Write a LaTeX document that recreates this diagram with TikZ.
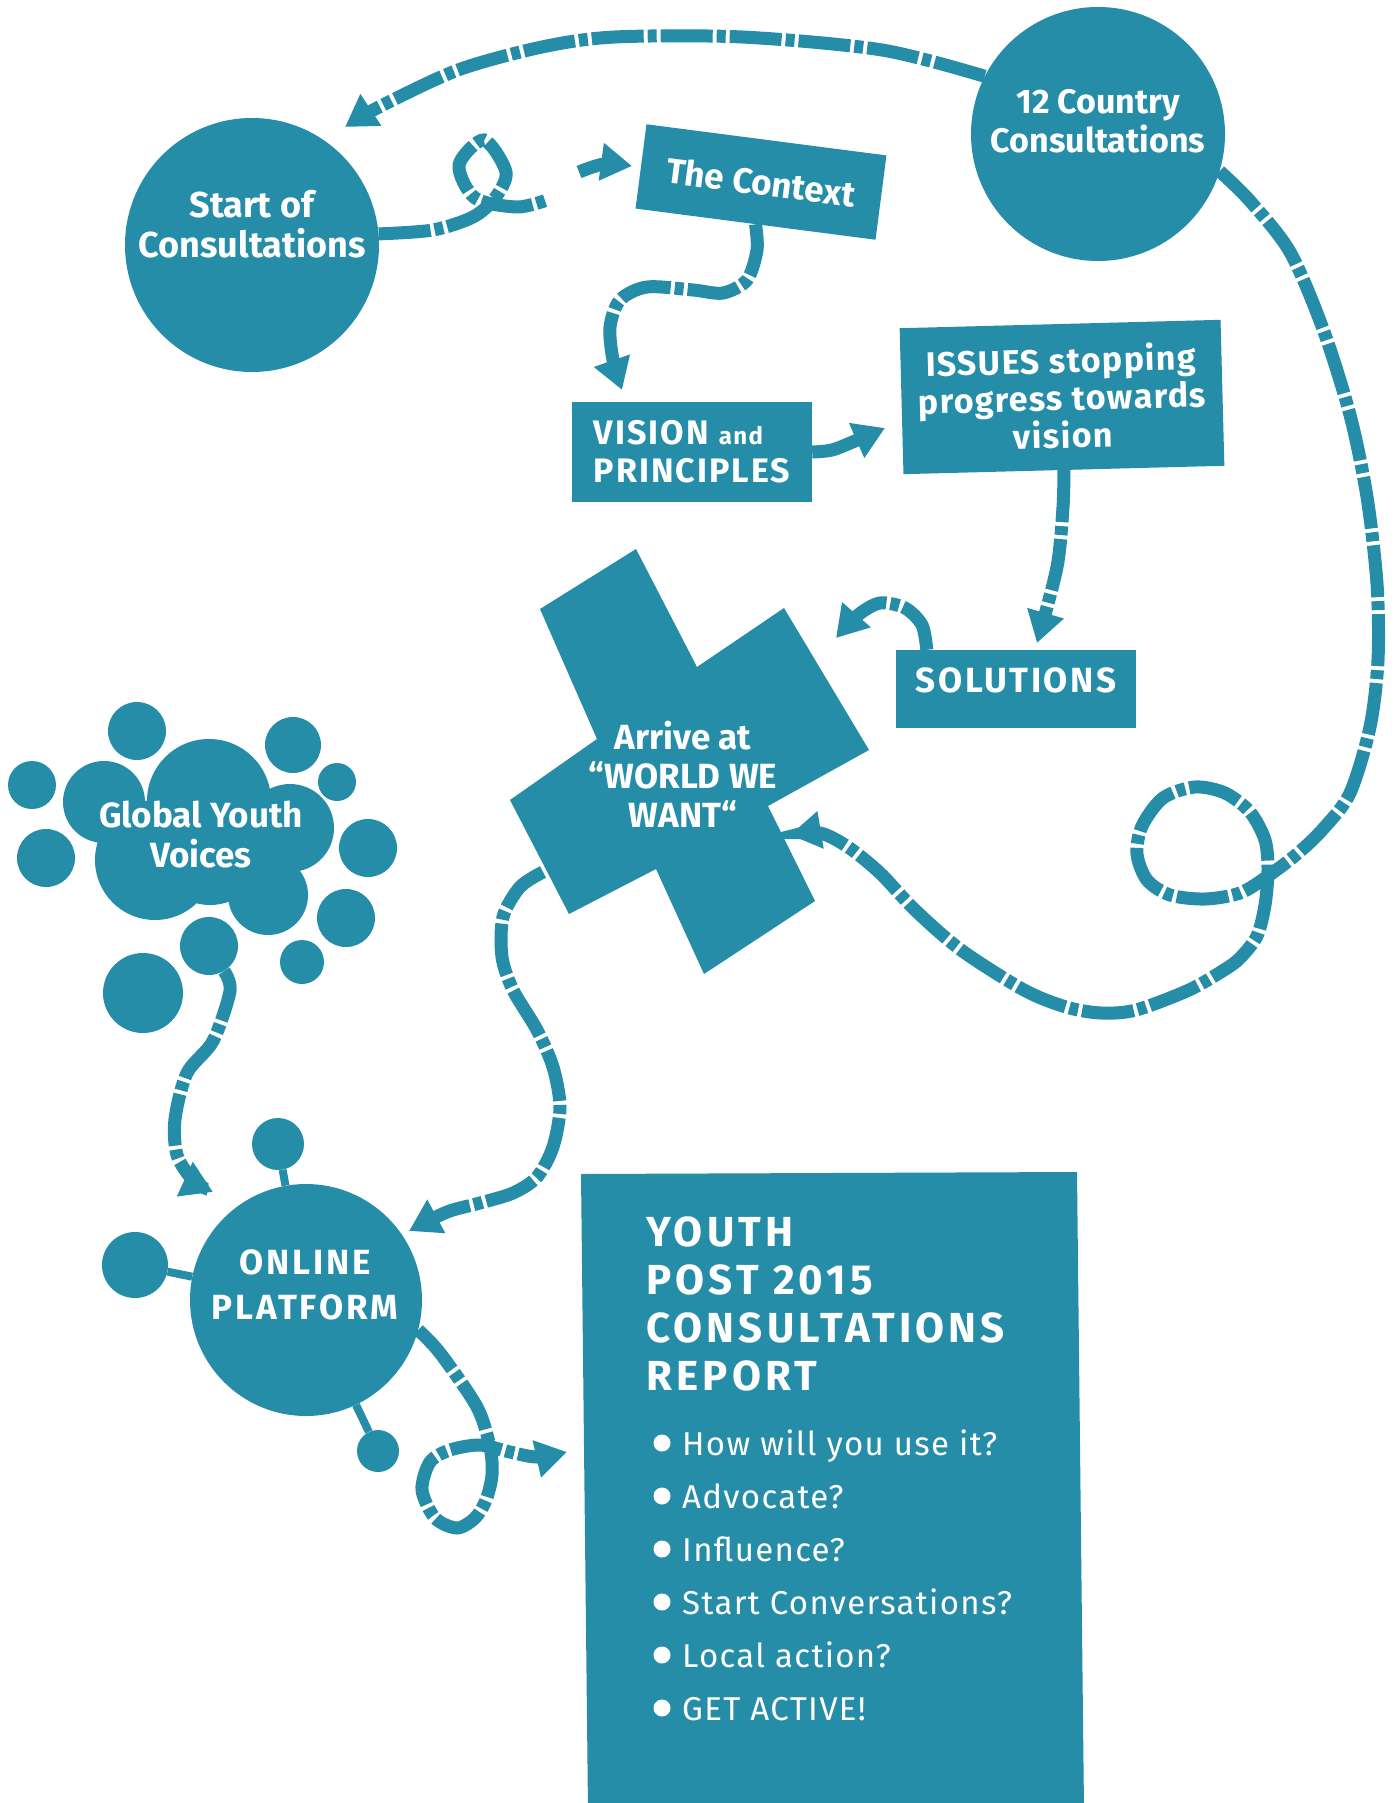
\documentclass[tikz,border=0pt]{standalone}
\usepackage{fontspec}
\setmainfont{Fira Sans}
\usetikzlibrary{arrows.meta}
\definecolor{yteal}{RGB}{38,141,168}
\tikzset{
  dashline/.style={draw=yteal, line width=13pt, dash pattern=on 52pt off 4pt on 9pt off 4pt},
  dasharrow/.style={dashline, -{Triangle[length=31pt,width=36pt]}},
  blob/.style={circle, fill=yteal, inner sep=0pt},
  stem/.style={draw=yteal, line width=8pt},
  tagbox/.style={rectangle, fill=yteal, inner sep=0pt, text=white, align=center,
    font=\bfseries\fontsize{35}{38}\selectfont},
  lbl/.style={text=white, align=center, inner sep=0pt,
    font=\bfseries\fontsize{36}{40}\selectfont},
}

\begin{document}
\begin{tikzpicture}[x=1pt, y=-1pt]
      \useasboundingbox[fill=white] (0,0) rectangle (1394,1803);

      % the two big circles at the top
      \node[blob, minimum size=254pt] (start) at (252,245) {};
      \node[lbl] (startlbl) at (252,224) {Start of\\Consultations};
      \node[blob, minimum size=254pt] (c12) at (1098,134) {};
      \node[lbl, font=\bfseries\fontsize{34}{39}\selectfont] (c12lbl) at (1098,121) {12 Country\\Consultations};

      % boxes
      \node[tagbox, rotate=-7.4, minimum width=242pt, minimum height=85pt] (ctx) at (761,182) {The Context};
      \node[tagbox, align=left, minimum width=240pt, minimum height=100pt,
        font=\bfseries\fontsize{34}{38}\selectfont\addfontfeature{LetterSpace=6}] (vision) at (692,452)
        {VISION {\fontsize{24}{24}\selectfont and}\\PRINCIPLES};
      \node[tagbox, rotate=1.5, minimum width=321pt, minimum height=146pt,
        font=\bfseries\fontsize{34}{37.5}\selectfont\addfontfeature{LetterSpace=4}] (issues) at (1062,397)
        {ISSUES stopping\\progress towards\\vision};
      \node[tagbox, minimum width=240pt, minimum height=78pt, text depth=18pt,
        font=\bfseries\fontsize{35}{38}\selectfont\addfontfeature{LetterSpace=7}] (solutions) at (1016,689) {SOLUTIONS};

      % the cross
      \fill[yteal] (540,609) -- (636,549) -- (697,667) -- (784,608) -- (869,750) -- (768,806)
        -- (815,901) -- (704,974) -- (656,869) -- (569,914) -- (510,800) -- (597,739) -- cycle;
      \node[lbl, font=\bfseries\fontsize{35}{39}\selectfont] (www) at (683,774) {Arrive at\\“WORLD WE\\WANT“};

      % cloud of voices
      \fill[yteal] (104,802) circle[radius=41pt] (209,801) circle[radius=62pt] (290,828) circle[radius=44pt]
        (155,860) circle[radius=60pt] (268,895) circle[radius=40pt] (210,850) circle[radius=55pt];
      \fill[yteal] (137,731) circle[radius=29pt] (32,785) circle[radius=24pt] (46,858) circle[radius=29pt]
        (293,745) circle[radius=28pt] (337,782) circle[radius=19pt] (368,848) circle[radius=29pt]
        (346,918) circle[radius=29pt] (302,962) circle[radius=22pt] (143,993) circle[radius=40pt];
      \node[blob, minimum size=58pt] (gyvdrop) at (209,946) {};
      \node[lbl, font=\bfseries\fontsize{35}{40}\selectfont] (gyv) at (201,835) {Global Youth\\Voices};

      % online platform
      \node[blob, minimum size=232pt] (online) at (306,1300) {};
      \node[lbl, font=\bfseries\fontsize{35}{45}\selectfont\addfontfeature{LetterSpace=8}] (onlinelbl) at (305,1285) {ONLINE\\PLATFORM};
      \node[blob, minimum size=52pt] (satA) at (278,1144) {};
      \node[blob, minimum size=66pt] (satB) at (135,1265) {};
      \node[blob, minimum size=42pt] (satC) at (378,1451) {};
      \draw[stem] (satA) -- (online);
      \draw[stem] (satB) -- (online);
      \draw[stem] (satC) -- (online);

      % report
      \fill[yteal] (581,1174) -- (1077,1172) -- (1084,1810) -- (588,1810) -- cycle;
      \node[anchor=north west, inner sep=0pt, text=white, align=left,
        font=\bfseries\fontsize{42}{48}\selectfont\addfontfeature{LetterSpace=10}] (title) at (646,1216)
        {YOUTH\\POST 2015\\CONSULTATIONS\\REPORT};
      \node[anchor=north west, inner sep=0pt, text=white, align=left,
        font=\fontsize{33}{53}\selectfont\addfontfeature{LetterSpace=4}] (uses) at (682,1430)
        {How will you use it?\\Advocate?\\Influence?\\Start Conversations?\\Local action?\\GET ACTIVE!};
      \fill[white] (662,1443) circle[radius=8.5pt];
      \fill[white] (662,1496) circle[radius=8.5pt];
      \fill[white] (662,1549) circle[radius=8.5pt];
      \fill[white] (662,1602) circle[radius=8.5pt];
      \fill[white] (662,1655) circle[radius=8.5pt];
      \fill[white] (662,1708) circle[radius=8.5pt];

      % arrow ends
      \coordinate (arcend) at (345,127);
      \coordinate (ctxin) at (632,166);
      \coordinate (visin) at (622,390);
      \coordinate (issin) at (885,428);
      \coordinate (solin) at (1037,643);
      \coordinate (wwwin) at (836,638);
      \coordinate (wwwin2) at (790,835);
      \coordinate (wwwout) at (543,872);
      \coordinate (onlin) at (409,1231);
      \coordinate (onlin2) at (213,1192);
      \coordinate (repin) at (567,1452);

      % connectors
      \draw[dasharrow] plot[smooth] coordinates {(c12.153) (882,50) (742,37) (615,37) (542,47) (458,70) (379,107) (arcend)};
      \draw[dasharrow] plot[smooth] coordinates {(start.5) (433,230) (473,217) (495,198) (506,172) (484,140)
        (459,165) (475,198) (517,207) (547,200)} plot[smooth] coordinates {(579,172) (604,164) (ctxin)};
      \draw[dasharrow] plot[smooth] coordinates {(ctx.south) (757,250) (747,280) (723,293) (693,290) (647,287)
        (620,300) (610,327) (613,360) (visin)};
      \draw[dasharrow] plot[smooth] coordinates {(vision.east) (832,450) (855,441) (issin)};
      \draw[dasharrow] plot[smooth] coordinates {(issues.south) (1063,507) (1057,567) (solin)};
      \draw[dasharrow] plot[smooth] coordinates {([xshift=31pt]solutions.north west) (922,625) (905,608) (880,603)
        (858,615) (wwwin)};
      \draw[dasharrow] plot[smooth] coordinates {(c12.-17) (1250,201) (1290,252) (1323,329) (1350,415) (1367,497)
        (1377,584) (1378,660) (1370,727) (1350,793) (1323,829) (1297,854) (1268,876) (1240,893) (1205,899)
        (1170,895) (1147,880) (1137,854) (1142,826) (1163,798) (1195,787) (1225,793) (1250,812) (1265,840)
        (1268,870) (1265,905) (1257,936) (1240,958) (1224,970) (1189,990) (1136,1010) (1101,1013) (1066,1007)
        (1024,990) (961,950) (915,910) (880,873) (848,847) (820,833) (wwwin2)};
      \draw[dasharrow] plot[smooth] coordinates {(wwwout) (520,887) (503,917) (502,957) (513,990) (537,1030)
        (553,1067) (560,1107) (553,1147) (537,1177) (513,1193) (480,1203) (447,1212) (onlin)};
      \draw[dasharrow] plot[smooth] coordinates {(gyvdrop.-59) (230,991) (213,1041) (187,1073) (175,1119)
        (177,1155) (193,1180) (onlin2)};
      \draw[dasharrow] plot[smooth] coordinates {(online.-15) (440,1353) (477,1407) (490,1447) (492,1475)
        (486,1500) (475,1518) (457,1528) (435,1518) (422,1490) (430,1462) (450,1450) (480,1445) (510,1452)
        (537,1457) (repin)};
\end{tikzpicture}
\end{document}
